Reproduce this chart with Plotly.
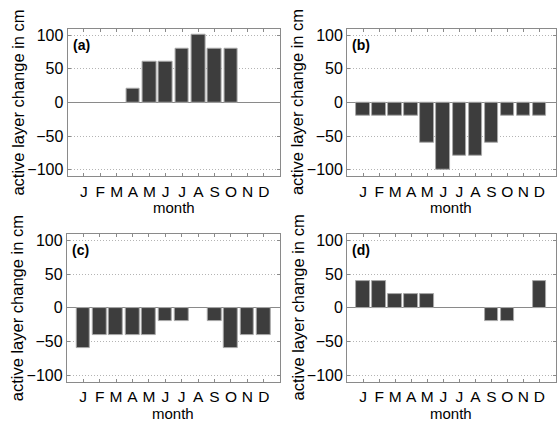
import plotly.graph_objects as go

months = list(range(1, 13))
month_labels = ["J", "F", "M", "A", "M", "J", "J", "A", "S", "O", "N", "D"]
panel_a = [0, 0, 0, 20, 60, 60, 80, 100, 80, 80, 0, 0]
panel_b = [-20, -20, -20, -20, -60, -100, -80, -80, -60, -20, -20, -20]
panel_c = [-60, -40, -40, -40, -40, -20, -20, 0, -20, -60, -40, -40]
panel_d = [40, 40, 20, 20, 20, 0, 0, 0, -20, -20, 0, 40]
panel_names = ["(a)", "(b)", "(c)", "(d)"]
y_ticks = [-100, -50, 0, 50, 100]
y_title = "active layer change in cm"
x_title = "month"

W, H = 557, 423
FONT = "Arial, Liberation Sans, sans-serif"
BAR = "#3d3d3d"
FRAME = "#8a8a8a"

# pixel boxes: (left, right, top, bottom)
boxes = [
    (67.7, 280.7, 27.0, 175.7),
    (347.7, 556.5, 27.0, 175.7),
    (66.9, 280.7, 234.3, 383.3),
    (347.7, 556.5, 234.3, 383.3),
]
series = [panel_a, panel_b, panel_c, panel_d]

fig = go.Figure()
annotations = []
for i, (vals, box) in enumerate(zip(series, boxes)):
    n = "" if i == 0 else str(i + 1)
    l, r, t, b = box
    fig.add_trace(go.Bar(
        x=months, y=vals, xaxis="x" + n, yaxis="y" + n,
        marker=dict(color=BAR, line=dict(color="#a8a8a8",
                                         width=[1 if v != 0 else 0 for v in vals])),
        width=0.84, showlegend=False,
    ))
    xd = [l / W, r / W]
    yd = [1 - b / H, 1 - t / H]
    fig.layout["xaxis" + n] = dict(
        domain=xd, anchor="y" + n, range=[0, 13],
        tickvals=months, ticktext=month_labels,
        ticks="inside", ticklen=3, tickcolor=FRAME, mirror="ticks",
        showline=True, linecolor=FRAME, linewidth=1,
        showgrid=False, zeroline=False, ticklabelstandoff=1,
        tickfont=dict(family=FONT, size=15.5, color="black"),
        fixedrange=True,
    )
    fig.layout["yaxis" + n] = dict(
        domain=yd, anchor="x" + n, range=[-109.5, 109.5],
        tickvals=y_ticks,
        ticks="inside", ticklen=3, tickcolor=FRAME, mirror="ticks",
        showline=True, linecolor=FRAME, linewidth=1,
        showgrid=True, gridcolor="#b4b4b4", griddash="1px,2px", gridwidth=1,
        zeroline=True, zerolinecolor=FRAME, zerolinewidth=1,
        tickfont=dict(family=FONT, size=16, color="black"),
        fixedrange=True,
    )
    # panel label
    annotations.append(dict(
        x=(l + 3) / W, y=1 - (t + 16) / H, xref="paper", yref="paper",
        xanchor="left", yanchor="middle", showarrow=False,
        text="<b>" + panel_names[i] + "</b>",
        font=dict(family=FONT, size=14, color="black"),
    ))
    # x title
    annotations.append(dict(
        x=(l + r) / 2 / W, y=1 - (b + 32) / H, xref="paper", yref="paper",
        xanchor="center", yanchor="middle", showarrow=False,
        text=x_title, font=dict(family=FONT, size=15, color="black"),
    ))
    # y title
    annotations.append(dict(
        x=(l - 49.5) / W, y=1 - (t + b) / 2 / H, xref="paper", yref="paper",
        xanchor="center", yanchor="middle", showarrow=False, textangle=-90,
        text=y_title, font=dict(family=FONT, size=16.5, color="black"),
    ))

fig.update_layout(
    width=W, height=H,
    margin=dict(l=0, r=0, t=0, b=0),
    paper_bgcolor="white", plot_bgcolor="white",
    bargap=0, annotations=annotations,
    font=dict(family=FONT, color="black"),
)
fig.write_html("out.html", include_plotlyjs=True, config={"displayModeBar": False},
               post_script="document.body.style.margin='0px';document.body.style.overflow='hidden';")
